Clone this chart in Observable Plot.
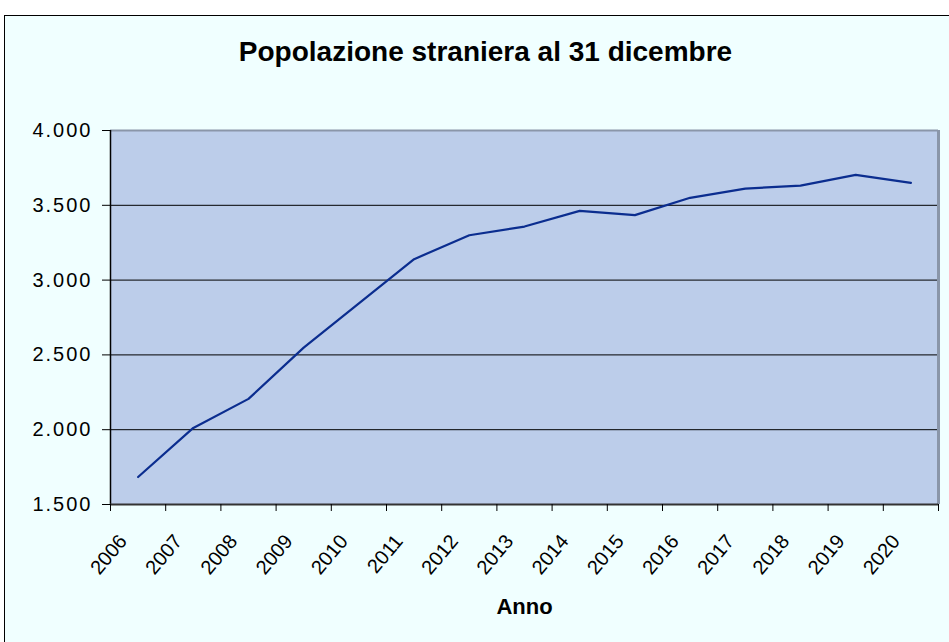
<!DOCTYPE html>
<html><head><meta charset="utf-8">
<script src="https://cdn.jsdelivr.net/npm/d3@7"></script>
<script src="https://cdn.jsdelivr.net/npm/@observablehq/plot@0.6"></script>
<style>
html,body{margin:0;padding:0;background:#fff;width:949px;height:642px;overflow:hidden;font-family:"Liberation Sans",Arial,sans-serif;}
#frame{position:absolute;left:4px;top:15px;width:1000px;height:1000px;border:1px solid #000;background:#F0FFFF;}
#title{position:absolute;left:0;top:38px;width:971px;text-align:center;font-size:28px;font-weight:bold;line-height:28px;color:#000;}
#chart{position:absolute;left:0;top:100px;}
#chart svg{background:transparent;overflow:visible;}
#chart [aria-label="y-axis tick label"] text{letter-spacing:2px}
</style></head>
<body>
<div id="frame"></div>
<div id="title">Popolazione straniera al 31 dicembre</div>
<div id="chart"></div>
<script>
const years = [2006, 2007, 2008, 2009, 2010, 2011, 2012, 2013, 2014, 2015, 2016, 2017, 2018, 2019, 2020];
const values = [1684, 2012, 2206, 2549, 2845, 3140, 3300, 3358, 3463, 3434, 3550, 3612, 3632, 3703, 3650];
const yTicks = [1500, 2000, 2500, 3000, 3500, 4000];
const gridValues = [2000, 2500, 3000, 3500];
const xLabel = "Anno";

const data = years.map((y, i) => ({year: y, value: values[i]}));
const xDomain = [years[0] - 0.5, years[years.length - 1] + 0.5];
const yDomain = [yTicks[0], yTicks[yTicks.length - 1]];
const boundaries = years.map(y => y - 0.5).concat([years[years.length - 1] + 0.5]);
const itFormat = d3.formatLocale({decimal: ",", thousands: ".", grouping: [3], currency: ["", "€"]}).format(",");

const chart = Plot.plot({
  width: 949,
  height: 542,
  marginLeft: 110,
  marginRight: 11,
  marginTop: 30,
  marginBottom: 138,
  style: {fontFamily: "'Liberation Sans', Arial, sans-serif", background: "transparent", color: "#000"},
  x: {domain: xDomain, label: null},
  y: {domain: yDomain, label: null},
  marks: [
    Plot.frame({fill: "#BCCDEA", stroke: null}),
    Plot.ruleY(gridValues, {stroke: "#000", strokeWidth: 1}),
    Plot.ruleY([yDomain[1]], {stroke: "#8A96A9", strokeWidth: 2}),
    Plot.ruleX([xDomain[1]], {stroke: "#8A96A9", strokeWidth: 3}),
    Plot.ruleX([xDomain[0]], {stroke: "#000", strokeWidth: 1.5}),
    Plot.ruleY([yDomain[0]], {stroke: "#333", strokeWidth: 2}),
    Plot.lineY(data, {x: "year", y: "value", stroke: "#0B2D8F", strokeWidth: 2.2}),
    Plot.axisY({ticks: yTicks, tickSize: 8, tickPadding: 10, tickFormat: itFormat, fontSize: 20, stroke: "#000", label: null}),
    Plot.axisX({ticks: boundaries, tickSize: 7, tickFormat: () => "", stroke: "#000", label: null}),
    Plot.axisX({ticks: years, tickSize: 0, tickRotate: -50, tickPadding: 33, dx: -15, fontSize: 20, tickFormat: d => String(d), label: null}),
    Plot.text([xLabel], {frameAnchor: "bottom", dy: 102, fontSize: 22, fontWeight: "bold", lineAnchor: "middle", fill: "#000"})
  ]
});
document.getElementById("chart").appendChild(chart);
</script>
</body></html>
